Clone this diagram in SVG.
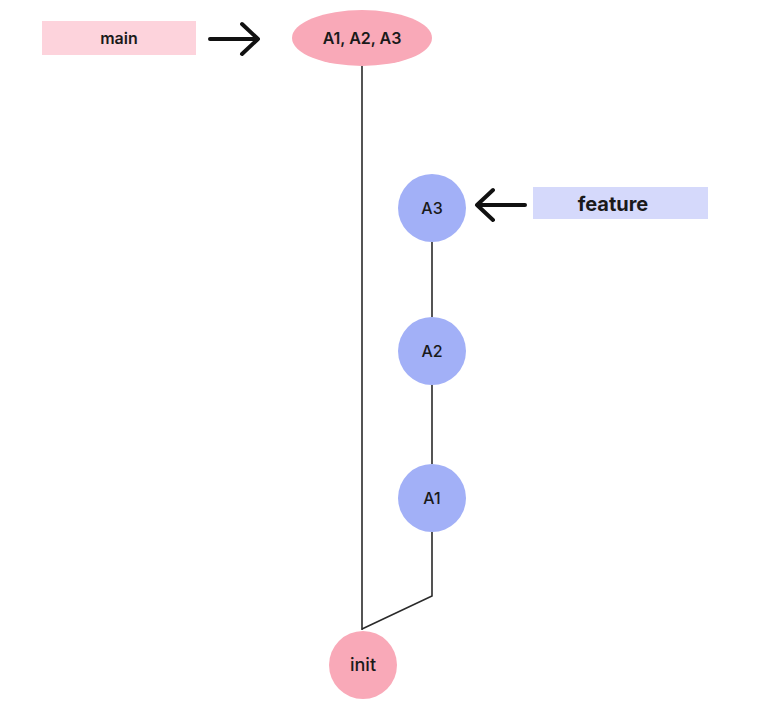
<svg xmlns="http://www.w3.org/2000/svg" width="776" height="719" viewBox="0 0 776 719">
<style>
.lbl{font-family:Inter,"Noto Sans",sans-serif;fill:#1a1a1a;text-anchor:middle;dominant-baseline:central}
.pink{fill:#f9a9b8}
.blue{fill:#a2b0f7}
.edge{stroke:#2a2a2a;stroke-width:1.6;fill:none}
.ptr{stroke:#111;stroke-width:4;fill:none;stroke-linecap:round;stroke-linejoin:round}
</style>
<rect width="776" height="719" fill="#ffffff"/>
<g id="connectors">
<path class="edge" d="M362 66 V630"/>
<path class="edge" d="M432 242 V317"/>
<path class="edge" d="M432 385 V464"/>
<path class="edge" d="M432 532 V596 L362 629"/>
<path class="ptr" d="M210 39 H257 M242 24 L258 39 L242 54"/>
<path class="ptr" d="M525 205 H478 M493 190 L477 205 L493 220"/>
</g>
<g id="main">
<rect x="42" y="21" width="154" height="34" fill="#fdd3dc"/>
<text class="lbl" x="119" y="38" font-size="16" font-weight="600">main</text>
</g>
<g id="merge">
<ellipse class="pink" cx="362" cy="38" rx="70" ry="28"/>
<text class="lbl" x="362" y="38" font-size="16" font-weight="600">A1, A2, A3</text>
</g>
<g id="feature">
<rect x="533" y="187" width="175" height="32" fill="#d5d9fb"/>
<text class="lbl" x="613" y="204" font-size="20" font-weight="700">feature</text>
</g>
<g id="A3">
<circle class="blue" cx="432" cy="208" r="34"/>
<text class="lbl" x="432" y="208" font-size="16" font-weight="500">A3</text>
</g>
<g id="A2">
<circle class="blue" cx="432" cy="351" r="34"/>
<text class="lbl" x="432" y="351" font-size="16" font-weight="500">A2</text>
</g>
<g id="A1">
<circle class="blue" cx="432" cy="498" r="34"/>
<text class="lbl" x="432" y="498" font-size="16" font-weight="500">A1</text>
</g>
<g id="init">
<circle class="pink" cx="363" cy="665" r="34"/>
<text class="lbl" x="363" y="664" font-size="18" font-weight="500">init</text>
</g>
</svg>
